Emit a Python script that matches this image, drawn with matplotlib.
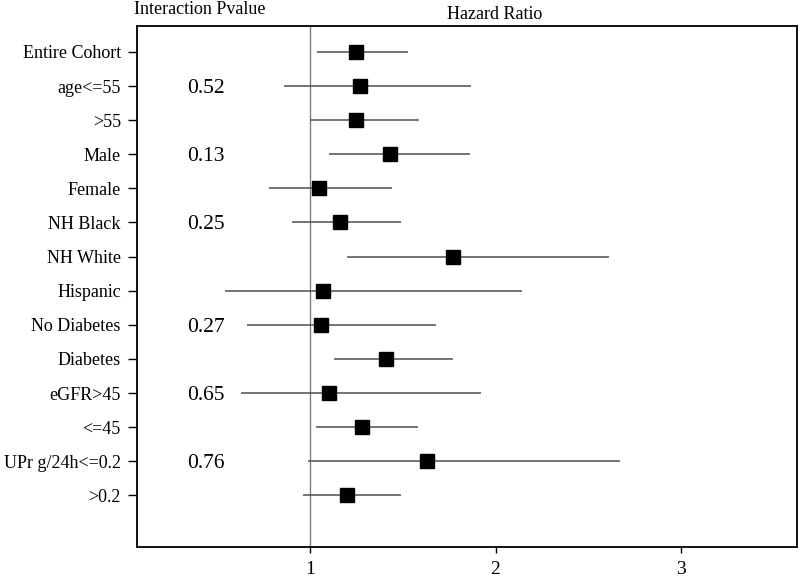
import numpy as np
import matplotlib.pyplot as plt

plt.rcParams['font.family'] = ['Liberation Serif', 'DejaVu Serif']

labels = ["Entire Cohort", "age<=55", ">55", "Male", "Female", "NH Black",
          "NH White", "Hispanic", "No Diabetes", "Diabetes", "eGFR>45",
          "<=45", "UPr g/24h<=0.2", ">0.2"]
hr = [1.25, 1.27, 1.25, 1.43, 1.05, 1.16, 1.77, 1.07, 1.06, 1.41, 1.10, 1.28, 1.63, 1.20]
lower = [1.04, 0.86, 1.00, 1.10, 0.78, 0.90, 1.20, 0.54, 0.66, 1.13, 0.63, 1.03, 0.99, 0.96]
upper = [1.53, 1.87, 1.59, 1.86, 1.44, 1.49, 2.61, 2.14, 1.68, 1.77, 1.92, 1.58, 2.67, 1.49]
pvals = {1: "0.52", 3: "0.13", 5: "0.25", 8: "0.27", 10: "0.65", 12: "0.76"}

fig = plt.figure(figsize=(8, 5.79), dpi=100)
ax = fig.add_axes([0.171, 0.055, 0.825, 0.9])

y = np.arange(len(labels))
ax.axvline(1, color='#808080', lw=1, zorder=1)
ax.hlines(y, lower, upper, color='#505050', lw=1.1, zorder=2)
ax.plot(hr, y, 's', color='black', markersize=9.5, zorder=3)

for i, p in pvals.items():
    ax.text(0.438, i, p, ha='center', va='center_baseline', fontsize=15.5)

ax.set_yticks(y)
ax.set_yticklabels(labels, fontsize=13)
ax.set_xticks([1, 2, 3])
ax.set_xticklabels(["1", "2", "3"], fontsize=14)
ax.set_xlim(0.066, 3.624)
ax.set_ylim(14.52, -0.76)
ax.tick_params(axis='y', length=6.5, width=1, pad=5)
ax.tick_params(axis='x', length=4, width=1, pad=6)
for s in ax.spines.values():
    s.set_linewidth(1.4)
    s.set_color('#111111')

fig.text(0.25, 0.984, "Interaction Pvalue", ha='center', va='center', fontsize=13)
fig.text(0.618, 0.975, "Hazard Ratio", ha='center', va='center', fontsize=13)

fig.savefig("out.png", dpi=100)
